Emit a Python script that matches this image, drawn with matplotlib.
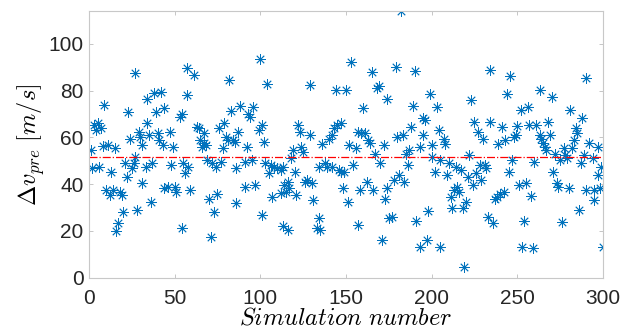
import numpy as np
import matplotlib
matplotlib.use("Agg")
import matplotlib.pyplot as plt

# simulation number / delta v
sim = [1, 2, 3, 4, 5, 6, 7, 8, 9, 10, 11, 12, 13, 14, 15, 16, 17, 18, 19, 20,
       21, 22, 23, 24, 25, 26, 27, 27, 28,
       29, 30, 31, 31, 33, 34, 34, 35, 36, 37, 38, 39, 40, 41, 42, 43, 44, 44,
       46, 47, 48, 49, 50, 51, 53, 54, 54, 55, 56, 57, 57, 58, 59,
       61, 63, 64, 65, 66, 67, 67, 68, 69, 70, 71, 72, 73, 74, 75, 76, 77, 78,
       79, 80, 81, 82, 83, 84, 85, 86, 86, 87, 88,
       91, 92, 91, 93, 94, 95, 96, 97, 99, 100, 101, 101, 102, 103, 104, 105,
       106, 107, 108, 110, 112, 112, 113, 114, 116, 116, 117, 118,
       113, 115, 119, 120, 121, 122, 123, 124, 125, 126, 127, 129, 129, 130,
       131, 133, 134, 135, 134, 136, 138, 139, 140, 142, 143, 144, 145,
       142, 147, 146, 147, 148, 149, 150, 151, 152, 153, 154, 156, 157, 157,
       158, 159, 160, 161, 162, 163, 164, 165, 166, 167, 168, 169, 170, 171,
       172, 173, 174, 174, 175,
       177, 178, 179, 180, 181, 182, 183, 184, 185, 186, 187, 188, 189, 190,
       191, 193, 193, 195, 195, 196, 197, 198, 199, 200, 200, 202, 203, 204,
       205,
       205, 207, 208, 209, 210, 211, 212, 213, 214, 215, 216, 217, 218, 219,
       220, 221, 222, 223, 224, 225, 226, 227, 228, 229, 230, 231, 232, 233,
       234, 234,
       236, 237, 238, 239, 240, 241, 242, 243, 244, 245, 246, 247, 248, 249,
       250, 251, 252, 253, 254, 255, 256, 257, 258, 259, 260, 261, 263, 263,
       264, 265, 266, 267, 268, 269, 270, 271, 272, 273, 274, 275, 276, 277,
       278, 279, 280, 281, 282, 283, 284, 285, 286, 287, 288, 289, 290, 290,
       292,
       294, 295, 295, 297, 297, 298, 299, 300]

dv = [54.6, 46.7, 65.2, 63.0, 66.0, 47.4, 64.0, 56.4, 73.8, 37.5, 56.7, 35.3,
      45.3, 37.5, 55.3, 20.0, 23.5, 36.8, 35.3, 28.2, 48.9, 43.2, 70.9, 59.1,
      46.7, 48.9, 87.6, 51.7, 28.9,
      62.4, 60.3, 56.7, 40.3, 47.4, 66.0, 76.6, 61.0, 32.5, 48.9, 78.8, 70.9,
      61.7, 58.8, 79.5, 56.7, 72.4, 38.2, 38.9, 62.4, 48.1, 56.0, 38.9, 36.8,
      68.8, 70.2, 21.4, 48.9, 44.6, 78.1, 89.5, 47.4, 37.5,
      86.6, 64.5, 63.8, 58.8, 56.0, 61.7, 57.4, 56.7, 50.3, 33.5, 17.2, 48.9,
      28.2, 47.4, 36.0, 63.8, 49.6, 55.3, 66.0, 60.3, 58.8, 84.5, 71.2, 58.8,
      58.1, 46.7, 32.0, 62.4, 73.4,
      38.9, 56.0, 49.6, 70.2, 68.8, 50.3, 73.1, 39.6, 63.1, 93.3, 26.8, 65.2,
      58.1, 48.9, 83.0, 44.6, 48.1, 34.6, 47.4, 46.7, 46.0, 36.3, 22.1, 39.6,
      41.0, 20.4, 38.2, 51.0,
      47.4, 36.8, 54.6, 45.3, 35.3, 65.2, 62.4, 56.0, 53.8, 41.0, 41.7, 61.0,
      82.3, 40.3, 33.2, 21.1, 25.4, 20.4, 47.4, 57.1, 48.9, 47.4, 59.5, 61.0,
      63.8, 80.2, 65.2,
      47.4, 66.0, 46.0, 45.3, 38.2, 45.3, 80.2, 32.5, 56.7, 92.3, 48.1, 55.3,
      62.4, 22.5, 37.5, 61.7, 72.4, 61.7, 41.0, 58.8, 57.4, 88.0, 37.5, 53.1,
      80.9, 81.9, 48.9, 16.1, 56.7, 33.5, 38.2, 76.6, 25.4,
      26.1, 41.7, 90.2, 60.3, 43.9, 114.0, 61.0, 41.0, 53.1, 48.1, 54.6, 64.5,
      73.4, 88.3, 24.4, 13.2, 56.0, 68.1, 61.0, 67.4, 16.1, 28.6, 78.5, 56.7,
      51.7, 45.3, 73.1, 63.1, 13.2,
      50.3, 59.5, 57.1, 43.9, 48.9, 34.6, 29.6, 37.5, 47.4, 38.9, 36.8, 46.0,
      29.6, 4.7, 32.5, 43.2, 52.4, 75.9, 39.6, 66.7, 44.6, 62.4, 48.1, 41.7,
      59.5, 48.1, 46.7, 26.1, 66.7, 88.7,
      23.2, 33.5, 34.6, 57.1, 36.0, 64.5, 36.8, 58.8, 78.5, 45.3, 86.2, 50.3,
      60.3, 61.0, 64.8, 39.6, 71.7, 13.2, 24.4, 40.3, 73.1, 65.2, 34.9, 12.5,
      49.6, 65.2, 80.2, 61.0,
      59.5, 57.4, 56.0, 54.6, 66.7, 61.0, 77.4, 45.3, 53.1, 40.3, 38.9, 50.3,
      23.9, 55.3, 52.4, 51.0, 38.2, 71.7, 55.3, 58.8, 63.8, 61.7, 28.9, 48.9,
      68.1, 52.4, 85.2, 37.5, 57.4,
      51.0, 37.5, 33.2, 56.0, 43.9, 38.2, 47.4, 13.2]

mean_line = 51.7
x_ticks = [0, 50, 100, 150, 200, 250, 300]
y_ticks = [0, 20, 40, 60, 80, 100]

plt.rcParams["font.family"] = ["Liberation Sans", "DejaVu Sans"]
plt.rcParams["mathtext.fontset"] = "cm"

fig = plt.figure(figsize=(6.33, 3.35), dpi=100)
ax = fig.add_axes([0.1406, 0.171, 0.812, 0.796])

ax.plot(sim, dv, linestyle="none", marker=(8, 2, 0), markersize=7.5,
        markeredgewidth=0.6, color="#0072BD", markeredgecolor="#0072BD")
ax.axhline(mean_line, color="red", linestyle="-.", linewidth=0.9)

ax.set_xlim(0, 300)
ax.set_ylim(0, 114)
ax.set_xticks(x_ticks)
ax.set_yticks(y_ticks)
ax.tick_params(direction="in", length=3, width=0.6, color="#bdbdbd",
               labelsize=15, labelcolor="#262626", top=True, right=True)
ax.tick_params(axis="x", pad=8)
ax.tick_params(axis="y", pad=4)
for s in ax.spines.values():
    s.set_color("#c8c8c8")
    s.set_linewidth(0.8)

ax.set_xlabel(r"$Simulation\ number$", fontsize=17.5, labelpad=0)
ax.set_ylabel(r"$\Delta v_{pre}\ [m/s]$", fontsize=17.5, labelpad=1)

fig.savefig("out.png", dpi=100)
